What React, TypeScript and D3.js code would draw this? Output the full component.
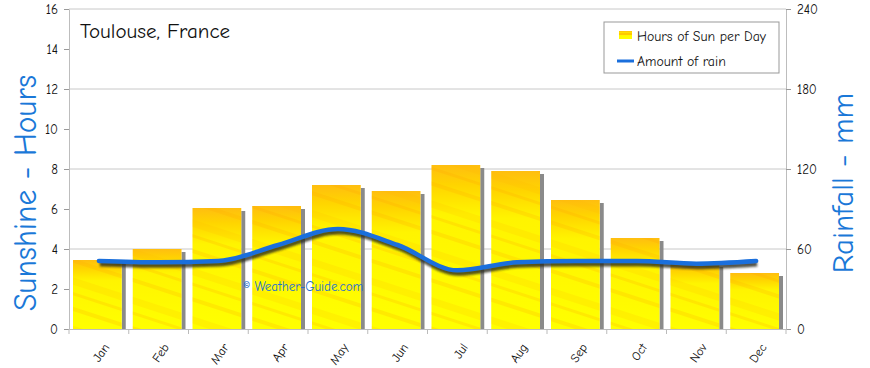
import { useEffect, useRef } from "react";
import * as d3 from "d3";

const months = ["Jan", "Feb", "Mar", "Apr", "May", "Jun", "Jul", "Aug", "Sep", "Oct", "Nov", "Dec"];
const sunHours = [3.45, 4.0, 6.05, 6.15, 7.2, 6.9, 8.2, 7.9, 6.45, 4.55, 3.25, 2.8];
const rainMm = [51, 50, 51, 63, 75, 63, 44, 50, 51, 51, 49, 51];
const leftTicks = [0, 2, 4, 6, 8, 10, 12, 14, 16];
const rightTicks = [0, 60, 120, 180, 240];
const gridTicks = [4, 8, 12, 16];

const FONT = "'Comic Sans MS', 'Comic Neue', Lato, 'DejaVu Sans', sans-serif";

const App = () => {
  const svgRef = useRef<SVGSVGElement | null>(null);

  useEffect(() => {
    const svg = d3.select(svgRef.current);
    svg.selectAll("*").remove();

    const width = 870,
      height = 368;
    const margin = { top: 9, right: 84, bottom: 39, left: 69 };
    const innerWidth = width - margin.left - margin.right;
    const innerHeight = height - margin.top - margin.bottom;

    const x = d3.scaleBand().domain(months).range([0, innerWidth]).padding(0);
    const y = d3.scaleLinear().domain([0, 16]).range([innerHeight, 0]);
    const yr = d3.scaleLinear().domain([0, 240]).range([innerHeight, 0]);

    const defs = svg.append("defs");
    const grad = defs
      .append("linearGradient")
      .attr("id", "sunGrad")
      .attr("x1", "0")
      .attr("y1", "0")
      .attr("x2", "0")
      .attr("y2", "1");
    grad.append("stop").attr("offset", "0%").attr("stop-color", "#ffbe10");
    grad.append("stop").attr("offset", "12%").attr("stop-color", "#ffd400");
    grad.append("stop").attr("offset", "30%").attr("stop-color", "#fff400");
    grad.append("stop").attr("offset", "100%").attr("stop-color", "#ffff00");

    const pat = defs
      .append("pattern")
      .attr("id", "streaks")
      .attr("patternUnits", "userSpaceOnUse")
      .attr("width", 60)
      .attr("height", 46)
      .attr("patternTransform", "rotate(18)");
    pat.append("rect").attr("y", 6).attr("width", 60).attr("height", 4).attr("fill", "#ffa800").attr("opacity", 0.22);
    pat.append("rect").attr("y", 24).attr("width", 60).attr("height", 7).attr("fill", "#ffb400").attr("opacity", 0.16);
    pat.append("rect").attr("y", 38).attr("width", 60).attr("height", 3).attr("fill", "#ff9f00").attr("opacity", 0.2);

    const blur = defs.append("filter").attr("id", "lineShadow").attr("x", "-5%").attr("y", "-50%").attr("width", "110%").attr("height", "200%");
    blur.append("feGaussianBlur").attr("stdDeviation", 1.2);

    const g = svg.append("g").attr("transform", `translate(${margin.left},${margin.top})`);

    // grid
    g.selectAll(".grid")
      .data(gridTicks)
      .enter()
      .append("line")
      .attr("x1", 0)
      .attr("x2", innerWidth)
      .attr("y1", (d) => y(d))
      .attr("y2", (d) => y(d))
      .attr("stroke", "#c8c8c8")
      .attr("stroke-width", 1);

    // left axis
    const left = g.append("g").call(d3.axisLeft(y).tickValues(leftTicks).tickSize(5).tickSizeOuter(0));
    left.select(".domain").attr("stroke", "#bdbdbd");
    left.selectAll(".tick line").attr("stroke", "#999");
    left.selectAll("text").attr("font-family", FONT).attr("font-size", 13).attr("fill", "#111").attr("dx", "-3");

    // right axis
    const right = g
      .append("g")
      .attr("transform", `translate(${innerWidth},0)`)
      .call(d3.axisRight(yr).tickValues(rightTicks).tickSize(5).tickSizeOuter(0));
    right.select(".domain").attr("stroke", "#bdbdbd");
    right.selectAll(".tick line").attr("stroke", "#999");
    right.selectAll("text").attr("font-family", FONT).attr("font-size", 13).attr("fill", "#111").attr("dx", "3");

    // bottom axis
    const bottom = g
      .append("g")
      .attr("transform", `translate(0,${innerHeight})`)
      .call(d3.axisBottom(x).tickSize(0).tickSizeOuter(0));
    bottom.select(".domain").attr("stroke", "#bdbdbd");
    bottom
      .selectAll("text")
      .attr("font-family", FONT)
      .attr("font-size", 12.5)
      .attr("fill", "#111")
      .attr("text-anchor", "end")
      .attr("transform", "translate(5,14) rotate(-55)")
      .attr("dy", "0.35em");
    g.selectAll(".btick")
      .data(d3.range(13))
      .enter()
      .append("line")
      .attr("x1", (i) => i * x.step())
      .attr("x2", (i) => i * x.step())
      .attr("y1", innerHeight)
      .attr("y2", innerHeight + 5)
      .attr("stroke", "#bbb");

    const pad = 4;
    const bw = x.bandwidth() - pad * 2 - 3;

    // bar shadows
    g.selectAll(".shadow")
      .data(sunHours)
      .enter()
      .append("rect")
      .attr("x", (_, i) => x(months[i])! + pad + bw)
      .attr("y", (d) => y(d) + 3)
      .attr("width", 4)
      .attr("height", (d) => innerHeight - y(d) - 3)
      .attr("fill", "#8a8a8a");

    const bars = g.append("g");
    bars
      .selectAll("rect.bar")
      .data(sunHours)
      .enter()
      .append("rect")
      .attr("class", "bar")
      .attr("x", (_, i) => x(months[i])! + pad)
      .attr("y", (d) => y(d))
      .attr("width", bw)
      .attr("height", (d) => innerHeight - y(d))
      .attr("fill", "url(#sunGrad)");
    bars
      .selectAll("rect.streak")
      .data(sunHours)
      .enter()
      .append("rect")
      .attr("class", "streak")
      .attr("x", (_, i) => x(months[i])! + pad)
      .attr("y", (d) => y(d))
      .attr("width", bw)
      .attr("height", (d) => innerHeight - y(d))
      .attr("fill", "url(#streaks)");

    // watermark
    svg
      .append("text")
      .attr("x", 243)
      .attr("y", 291)
      .attr("font-family", FONT)
      .attr("font-size", 13)
      .attr("fill", "#1f6fd0")
      .text("© Weather-Guide.com");

    // rain line
    const line = d3
      .line<number>()
      .x((_, i) => x(months[i])! + x.bandwidth() / 2)
      .y((d) => yr(d))
      .curve(d3.curveMonotoneX);

    g.append("path")
      .datum(rainMm)
      .attr("d", line)
      .attr("transform", "translate(1,3)")
      .attr("fill", "none")
      .attr("stroke", "#2a2a1a")
      .attr("stroke-width", 5)
      .attr("opacity", 0.8)
      .attr("filter", "url(#lineShadow)");
    g.append("path")
      .datum(rainMm)
      .attr("d", line)
      .attr("fill", "none")
      .attr("stroke", "#1a6fdc")
      .attr("stroke-width", 4.5)
      .attr("stroke-linecap", "round");

    // title
    svg
      .append("text")
      .attr("x", 80)
      .attr("y", 38)
      .attr("font-family", FONT)
      .attr("font-size", 21)
      .attr("fill", "#111")
      .text("Toulouse, France");

    // axis titles
    svg
      .append("text")
      .attr("transform", `translate(36,193) rotate(-90)`)
      .attr("text-anchor", "middle")
      .attr("font-family", FONT)
      .attr("font-size", 31.5)
      .attr("fill", "#1a78d8")
      .text("Sunshine - Hours");
    svg
      .append("text")
      .attr("transform", `translate(853,183) rotate(-90)`)
      .attr("text-anchor", "middle")
      .attr("font-family", FONT)
      .attr("font-size", 31)
      .attr("fill", "#1a78d8")
      .text("Rainfall - mm");

    // legend
    const lg = svg.append("g").attr("transform", "translate(604,22)");
    lg.append("rect").attr("width", 175).attr("height", 51).attr("fill", "#fff").attr("stroke", "#999");
    lg.append("rect").attr("x", 15).attr("y", 9).attr("width", 13).attr("height", 8).attr("fill", "url(#sunGrad)");
    lg.append("rect").attr("x", 15).attr("y", 11).attr("width", 13).attr("height", 2).attr("fill", "#ffc800");
    lg.append("text").attr("x", 33).attr("y", 19).attr("font-family", FONT).attr("font-size", 13.8).attr("fill", "#111").text("Hours of Sun per Day");
    lg.append("line").attr("x1", 13).attr("x2", 30).attr("y1", 39).attr("y2", 39).attr("stroke", "#1a6fdc").attr("stroke-width", 3);
    lg.append("text").attr("x", 33).attr("y", 44).attr("font-family", FONT).attr("font-size", 13.8).attr("fill", "#111").text("Amount of rain");
  }, []);

  return <svg ref={svgRef} width={870} height={368} style={{ display: "block", position: "absolute", left: 0, top: 0 }}></svg>;
};

export default App;
